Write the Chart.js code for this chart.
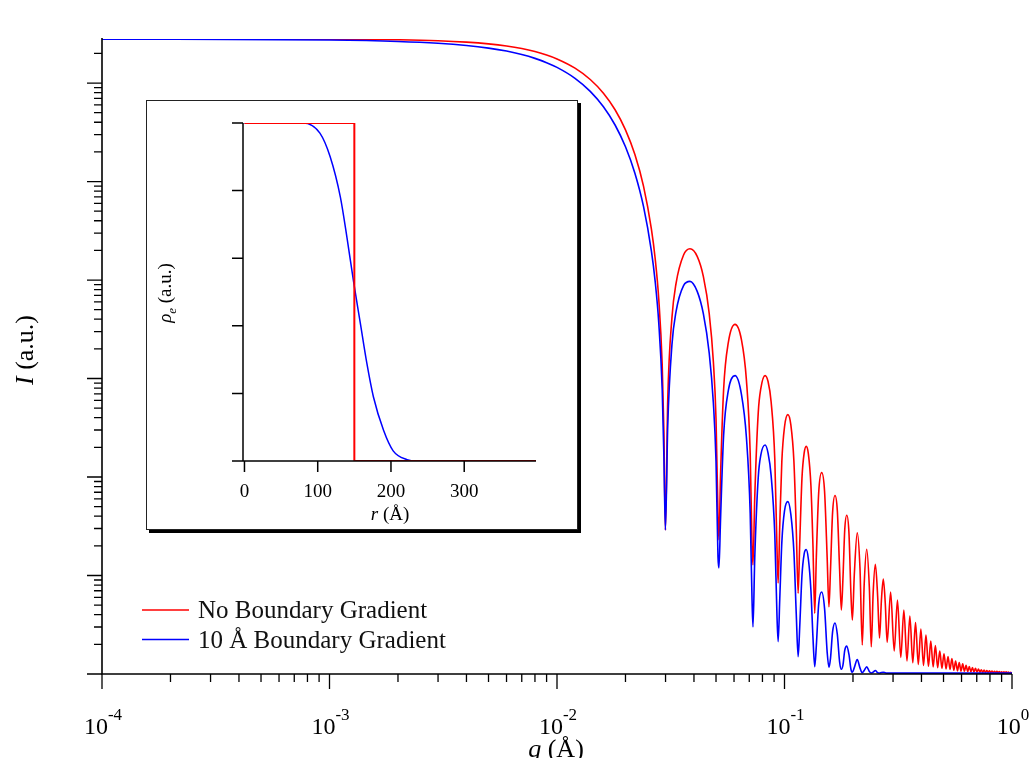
<!DOCTYPE html>
<html lang="en">
<head>
<meta charset="UTF-8" />
<title>Sphere scattering with and without boundary gradient</title>
<script src="https://cdn.jsdelivr.net/npm/chart.js@4.4.0/dist/chart.umd.min.js"></script>
<style>
*{box-sizing:border-box}
body{margin:0;background:#fff}
#wrap{position:relative;width:1029px;height:758px;overflow:hidden;background:#fff}
#main{position:absolute;left:0;top:0;width:1029px;height:758px}
#inset{position:absolute;left:146px;top:100px;width:432px;height:430px;
  border:1px solid #222;box-shadow:3px 3px 0 #000;background:#fff}
</style>
</head>
<body>
<div id="wrap">
  <div id="main"><canvas id="mainChart"></canvas></div>
  <div id="inset"><canvas id="insetChart"></canvas></div>
</div>

<script>
/* ---------- data ---------- */
// q (1/Å), shared by both curves up to the 13th minimum
const qLobes = [
  1e-4, 0.001, 0.002, 0.003, 0.004, 0.005, 0.006, 0.007, 0.008, 0.009, 0.010, 0.012,
  0.014, 0.016, 0.018, 0.020, 0.022, 0.024, 0.026, 0.027, 0.028, 0.029, 0.0295, 0.02996,
  0.03067, 0.032, 0.03333, 0.036, 0.03842, 0.04133, 0.044, 0.04667, 0.04867, 0.05, 0.051, 0.0515,
  0.05233, 0.054, 0.05667, 0.06063, 0.06467, 0.068, 0.07067, 0.072, 0.07269,
  0.074, 0.07667, 0.07867, 0.08215, 0.08467, 0.08733, 0.09067, 0.09267, 0.09377,
  0.09533, 0.09733, 0.1, 0.10343, 0.10667, 0.11, 0.11267, 0.11481,
  0.11667, 0.11933, 0.122, 0.12459, 0.12733, 0.13067, 0.13333, 0.13581,
  0.138, 0.14133, 0.14569, 0.15, 0.154, 0.1568,
  0.15933, 0.16267, 0.16675, 0.17067, 0.17467, 0.17777,
  0.18067, 0.184, 0.18779, 0.192, 0.196, 0.19874,
  0.20267, 0.2088, 0.21467, 0.21971,
  0.224, 0.2298, 0.236, 0.24067,
  0.24533, 0.2508, 0.25667, 0.26163,
  0.26667, 0.27178, 0.27733, 0.28259
];
// remaining maxima / minima of the sharp-boundary curve
const qRedTail = [
  0.29276, 0.30354, 0.31373, 0.32449, 0.3347, 0.34545, 0.35567, 0.3664, 0.37664, 0.38735,
  0.3976, 0.4083, 0.41856, 0.42925, 0.43952, 0.4502, 0.46048, 0.47114, 0.48143, 0.49209,
  0.50239, 0.51304, 0.52335, 0.53399, 0.54429, 0.55493, 0.56525, 0.57588, 0.58621, 0.59683,
  0.60715, 0.61777, 0.62811, 0.63872, 0.64905, 0.65967, 0.67001, 0.68061, 0.69096, 0.70156,
  0.71191, 0.7225, 0.73286, 0.74345, 0.7538, 0.76439, 0.77475, 0.78534, 0.79571, 0.80628,
  0.81665, 0.82723, 0.8376, 0.84817, 0.85855, 0.86911, 0.87949, 0.89006, 0.90044, 0.911,
  0.92139, 0.93195, 0.94234, 0.95289, 0.96328, 0.97384, 0.98423, 0.99478, 1.0
];
const qBlueTail = [0.3, 0.4, 0.5, 0.7, 1.0];

// I (a.u.), no boundary gradient
const iRed = [
  2.8e6, 2.787e6, 2.75e6, 2.69e6, 2.605e6, 2.5e6, 2.377e6, 2.238e6, 2.086e6, 1.925e6, 1.758e6, 1.417e6,
  1.087e6, 7.885e5, 5.353e5, 3.346e5, 1.877e5, 8.98e4, 3.29e4, 1.664e4, 6476, 1379, 290, 29,
  607, 4133, 9114, 17930, 20750, 17390, 10830, 4572, 1489, 391, 42, 23,
  101, 773, 2339, 3550, 2485, 970, 172, 20, 12.8,
  62, 451, 789, 1071, 932, 581, 149, 19, 8.4,
  33, 143.6, 321.8, 429.5, 336.1, 143.8, 29, 6.6,
  21.4, 96.8, 174.6, 204.8, 171.9, 81.4, 20.8, 4.13,
  15.3, 68.8, 110.8, 71.7, 15.2, 4.82,
  11.6, 43.2, 65, 45.7, 11.6, 4.47,
  9.3, 29.1, 40.9, 27.1, 6.3, 3.53,
  10.1, 27.1, 11.9, 1.97,
  8.1, 18.5, 7.6, 1.89,
  6.7, 13, 6.2, 2.32,
  5.6, 9.2, 5.2, 2.1,
  6.8, 1.71, 5.64, 1.47, 4.46, 1.355, 3.88, 1.30, 3.33, 1.249,
  2.86, 1.22, 2.49, 1.197, 2.16, 1.178, 1.95, 1.161, 1.71, 1.143,
  1.60, 1.124, 1.505, 1.111, 1.437, 1.09, 1.355, 1.075, 1.309, 1.07,
  1.269, 1.065, 1.223, 1.06, 1.189, 1.055, 1.164, 1.05, 1.14, 1.048,
  1.121, 1.045, 1.106, 1.043, 1.095, 1.04, 1.085, 1.038, 1.075, 1.036,
  1.07, 1.036, 1.065, 1.033, 1.063, 1.033, 1.058, 1.031, 1.055, 1.031,
  1.053, 1.031, 1.05, 1.028, 1.045, 1.028, 1.043, 1.028, 1.035
];
// I (a.u.), 10 Å boundary gradient
const iBlue = [
  2.794e6, 2.732e6, 2.643e6, 2.535e6, 2.407e6, 2.264e6, 2.111e6, 1.948e6, 1.78e6, 1.611e6, 1.442e6, 1.117e6,
  8.24e5, 5.744e5, 3.749e5, 2.252e5, 1.214e5, 5.584e4, 1.966e4, 9751, 3720, 777, 162, 29,
  331, 2193, 4711, 8791, 9699, 7672, 4530, 1815, 568, 145, 15.6, 11.9,
  36.5, 266, 762, 1069, 691, 253, 43, 5.6, 3.0,
  15.1, 99.6, 167, 211, 175, 104, 25.6, 3.9, 2.13,
  5.8, 21.7, 45.3, 56.3, 41.5, 17.2, 4.0, 1.5,
  3.02, 10.0, 16.5, 18.3, 14.7, 7.05, 2.41, 1.186,
  1.93, 5.13, 6.8, 4.63, 1.67, 1.17,
  1.45, 2.68, 3.3, 2.52, 1.33, 1.116,
  1.23, 1.74, 1.92, 1.58, 1.11, 1.04,
  1.16, 1.40, 1.155, 1.03,
  1.084, 1.185, 1.061, 1.025,
  1.044, 1.084, 1.032, 1.022,
  1.035, 1.04, 1.03, 1.02,
  1.02, 1.02, 1.02, 1.02, 1.02
];
const qRed = qLobes.concat(qRedTail);
const qBlue = qLobes.concat(qBlueTail);

// inset: electron density profiles
const rStep = [0, 150, 150, 398];
const rhoStep = [1, 1, 0, 0];
const rGrad = [0, 80, 103, 117, 131, 140, 149, 158, 167, 176, 190, 203, 222, 235, 398];
const rhoGrad = [1, 1, 0.97, 0.90, 0.78, 0.66, 0.53, 0.41, 0.29, 0.19, 0.09, 0.03, 0.004, 0, 0];

// axis ticks
const X_MAJOR = [1e-4, 1e-3, 1e-2, 1e-1, 1];
const X_EXP = ['-4', '-3', '-2', '-1', '0'];
const Y_MAJOR = [1, 1e1, 1e2, 1e3, 1e4, 1e5, 1e6];
const INSET_X_TICKS = [0, 100, 200, 300];
const INSET_Y_TICKS = [0, 0.2, 0.4, 0.6, 0.8, 1];

const RED = '#ff0000', BLUE = '#0000ff';
const SERIF = '"Liberation Serif","Times New Roman",serif';

/* ---------- helpers ---------- */
const pts = (xs, ys) => xs.map((x, i) => ({x, y: ys[i]}));

// draw text made of several runs: [text, font, dy]
function runs(ctx, parts, x, y, align){
  let w = 0;
  parts.forEach(p => { ctx.font = p[1]; w += ctx.measureText(p[0]).width; });
  let cx = align === 'center' ? x - w / 2 : x;
  ctx.textAlign = 'left';
  parts.forEach(p => {
    ctx.font = p[1];
    ctx.fillText(p[0], cx, y + (p[2] || 0));
    cx += ctx.measureText(p[0]).width;
  });
}

function minorsOf(majors, max){
  const out = [];
  majors.forEach(m => { for (let k = 2; k <= 9; k++) if (k * m <= max) out.push(k * m); });
  return out;
}

/* ---------- main axes, labels, legend ---------- */
const mainAxes = {
  id: 'mainAxes',
  afterDraw(chart){
    const {ctx, chartArea: a, scales: {x, y}} = chart;
    ctx.save();
    ctx.strokeStyle = '#000';
    ctx.fillStyle = '#000';
    ctx.lineWidth = 1.6;

    ctx.beginPath();
    ctx.moveTo(a.left, a.top - 1); ctx.lineTo(a.left, a.bottom);
    ctx.lineTo(a.right, a.bottom);
    ctx.stroke();

    ctx.lineWidth = 1.3;
    ctx.beginPath();
    X_MAJOR.forEach(v => { const p = x.getPixelForValue(v); ctx.moveTo(p, a.bottom); ctx.lineTo(p, a.bottom + 15); });
    minorsOf(X_MAJOR.slice(0, -1), 1).forEach(v => { const p = x.getPixelForValue(v); ctx.moveTo(p, a.bottom); ctx.lineTo(p, a.bottom + 8); });
    Y_MAJOR.forEach(v => { const p = y.getPixelForValue(v); ctx.moveTo(a.left, p); ctx.lineTo(a.left - 15, p); });
    minorsOf(Y_MAJOR, y.max).forEach(v => { const p = y.getPixelForValue(v); ctx.moveTo(a.left, p); ctx.lineTo(a.left - 8, p); });
    ctx.stroke();

    ctx.textBaseline = 'alphabetic';
    X_MAJOR.forEach((v, i) => {
      runs(ctx, [['10', '24px ' + SERIF], [X_EXP[i], '17px ' + SERIF, -14]], x.getPixelForValue(v) + 1, 734, 'center');
    });
    runs(ctx, [['q', 'italic 26px ' + SERIF], [' (Å)', '26px ' + SERIF]], 556, 757, 'center');

    ctx.save();
    ctx.translate(33, 350);
    ctx.rotate(-Math.PI / 2);
    runs(ctx, [['I', 'italic 26px ' + SERIF], [' (a.u.)', '26px ' + SERIF]], 0, 0, 'center');
    ctx.restore();

    // legend
    const leg = [['No Boundary Gradient', RED, 610], ['10 Å Boundary Gradient', BLUE, 639.5]];
    leg.forEach(l => {
      ctx.strokeStyle = l[1]; ctx.lineWidth = 1.6;
      ctx.beginPath(); ctx.moveTo(142, l[2]); ctx.lineTo(189, l[2]); ctx.stroke();
      ctx.fillStyle = '#111';
      runs(ctx, [[l[0], '25px ' + SERIF]], 198, l[2] + 8, 'left');
    });
    ctx.restore();
  }
};

/* ---------- inset axes ---------- */
const insetAxes = {
  id: 'insetAxes',
  afterDraw(chart){
    const {ctx, chartArea: a, scales: {x, y}} = chart;
    ctx.save();
    ctx.strokeStyle = '#000';
    ctx.fillStyle = '#000';
    ctx.lineWidth = 1.5;
    ctx.beginPath();
    ctx.moveTo(a.left, a.top); ctx.lineTo(a.left, a.bottom); ctx.lineTo(a.right, a.bottom);
    INSET_X_TICKS.forEach(v => { const p = x.getPixelForValue(v); ctx.moveTo(p, a.bottom); ctx.lineTo(p, a.bottom + 11); });
    INSET_Y_TICKS.forEach(v => { const p = y.getPixelForValue(v); ctx.moveTo(a.left, p); ctx.lineTo(a.left - 11, p); });
    ctx.stroke();

    ctx.textBaseline = 'alphabetic';
    INSET_X_TICKS.forEach(v => runs(ctx, [[String(v), '19px ' + SERIF]], x.getPixelForValue(v), 396, 'center'));
    runs(ctx, [['r', 'italic 19px ' + SERIF], [' (Å)', '19px ' + SERIF]], 243, 419, 'center');

    ctx.save();
    ctx.translate(24, 192);
    ctx.rotate(-Math.PI / 2);
    runs(ctx, [['ρ', 'italic 19px ' + SERIF], ['e', 'italic 13px ' + SERIF, 5], [' (a.u.)', '19px ' + SERIF]], 0, 0, 'center');
    ctx.restore();
    ctx.restore();
  }
};

/* ---------- charts ---------- */
new Chart(document.getElementById('mainChart'), {
  type: 'line',
  data: {datasets: [
    {label: 'No Boundary Gradient', data: pts(qRed, iRed), borderColor: RED, order: 1},
    {label: '10 Å Boundary Gradient', data: pts(qBlue, iBlue), borderColor: BLUE, order: 0}
  ]},
  options: {
    responsive: true, maintainAspectRatio: false, animation: false, events: [],
    layout: {padding: {left: 102, top: 39, right: 17, bottom: 84}},
    elements: {point: {radius: 0}, line: {borderWidth: 1.6, cubicInterpolationMode: 'monotone', fill: false}},
    plugins: {legend: {display: false}, tooltip: {enabled: false}},
    scales: {
      x: {type: 'logarithmic', min: 1e-4, max: 1, display: false},
      y: {type: 'logarithmic', min: 1, max: 2.8e6, display: false}
    }
  },
  plugins: [mainAxes]
});

new Chart(document.getElementById('insetChart'), {
  type: 'line',
  data: {datasets: [
    {label: 'step', data: pts(rStep, rhoStep), borderColor: RED, borderWidth: 2, tension: 0, order: 0},
    {label: 'gradient', data: pts(rGrad, rhoGrad), borderColor: BLUE, borderWidth: 1.5,
     cubicInterpolationMode: 'monotone', order: 1}
  ]},
  options: {
    responsive: true, maintainAspectRatio: false, animation: false, events: [],
    layout: {padding: {left: 96, top: 22, right: 41, bottom: 68}},
    elements: {point: {radius: 0}, line: {fill: false}},
    plugins: {legend: {display: false}, tooltip: {enabled: false}},
    scales: {
      x: {type: 'linear', min: -2, max: 398, display: false},
      y: {type: 'linear', min: 0, max: 1, display: false}
    }
  },
  plugins: [insetAxes]
});
</script>
</body>
</html>
